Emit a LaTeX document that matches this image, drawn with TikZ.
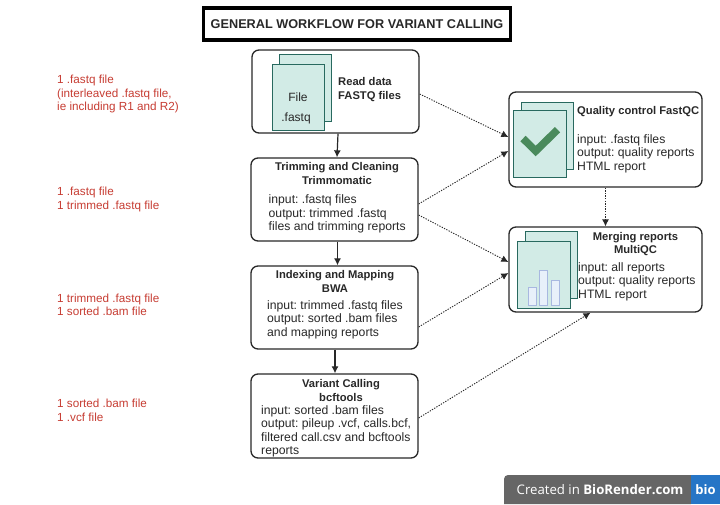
\documentclass[tikz,border=0pt]{standalone}
\usepackage{fontspec}
\setmainfont{Liberation Sans}
\newfontfamily\badgefont{Open Sans}
\usetikzlibrary{arrows.meta}
\frenchspacing
\definecolor{docfill}{RGB}{210,235,230}
\definecolor{docline}{RGB}{40,105,95}
\definecolor{checkgreen}{RGB}{74,138,92}
\definecolor{barfill}{RGB}{232,240,250}
\definecolor{barline}{RGB}{168,184,224}
\definecolor{notered}{RGB}{198,60,50}
\definecolor{darktext}{RGB}{40,40,40}
\definecolor{badgegray}{RGB}{102,102,102}
\definecolor{badgeblue}{RGB}{38,117,198}
\pgfdeclarelayer{edgelayer}
\pgfdeclarelayer{nodelayer}
\pgfsetlayers{edgelayer,main,nodelayer}
\tikzset{
  box/.style={draw=darktext,fill=white,line width=1.3pt,rounded corners=7pt,inner sep=0pt},
  doc/.style={draw=docline,fill=docfill,line width=0.9pt,inner sep=0pt},
  bar/.style={draw=barline,fill=barfill,line width=1pt,inner sep=0pt},
  head/.style={font=\fontsize{11.2}{13.6}\selectfont\bfseries,text=darktext,align=center,inner sep=0pt},
  body/.style={font=\fontsize{12.2}{13.6}\selectfont,text=darktext,align=left,inner sep=0pt,anchor=north west},
  note/.style={font=\fontsize{11.7}{13.4}\selectfont,text=notered,align=left,inner sep=0pt,anchor=north west},
  solid arrow/.style={-{Latex[length=7pt,width=7pt]},line width=1.2pt,draw=darktext},
  dot arrow/.style={-{Latex[length=7pt,width=7pt]},line width=0.9pt,draw=darktext,dash pattern=on 1.3pt off 1.3pt}
}
\begin{document}
\begin{tikzpicture}[x=1pt,y=-1pt]
  \useasboundingbox (0,0) rectangle (720,504);
  \begin{pgfonlayer}{nodelayer}
    % title
    \node [draw=black,line width=3.2pt,fill=white,minimum width=307pt,minimum height=32pt,inner sep=0pt,
      font=\fontsize{12.7}{16}\selectfont\bfseries,text=darktext] (title) at (357,24) {GENERAL WORKFLOW FOR VARIANT CALLING};

    % main column
    \node [box,minimum width=167pt,minimum height=83pt] (read) at (335.5,91.5) {};
    \node [box,minimum width=167pt,minimum height=83pt] (trim) at (334.5,199.5) {};
    \node [box,minimum width=167pt,minimum height=83pt] (bwa) at (334.5,307.5) {};
    \node [box,minimum width=167pt,minimum height=84pt] (var) at (334.5,416) {};

    % right column
    \node [box,minimum width=193pt,minimum height=95pt] (qc) at (605.5,139.5) {};
    \node [box,minimum width=193pt,minimum height=85pt] (mq) at (605.5,269.5) {};

    % read data
    \node [doc,minimum width=52pt,minimum height=67pt] (readback) at (305,87.5) {};
    \node [doc,minimum width=52pt,minimum height=66pt] (readfront) at (298,97) {};
    \node [font=\fontsize{12}{13.6}\selectfont,text=darktext] (readfile) at (298,97.5) {File};
    \node [font=\fontsize{12}{13.6}\selectfont,text=darktext] (readext) at (296,118) {.fastq};
    \node [head,align=left,anchor=north west] (readhead) at (338,77.5) {Read data\\FASTQ files};

    % trimming
    \node [head] (trimhead) at (337,173.5) {Trimming and Cleaning\\Trimmomatic};
    \node [body] (trimbody) at (268.5,194.5) {input: .fastq files\\output: trimmed .fastq\\files and trimming reports};

    % mapping
    \node [head] (bwahead) at (335,281.5) {Indexing and Mapping\\BWA};
    \node [body] (bwabody) at (267,300) {input: trimmed .fastq files\\output: sorted .bam files\\and mapping reports};

    % calling
    \node [head] (varhead) at (341,390.5) {Variant Calling\\bcftools};
    \node [body] (varbody) at (261,405) {input: sorted .bam files\\output: pileup .vcf, calls.bcf,\\filtered call.csv and bcftools\\reports};

    % quality control
    \node [doc,minimum width=52pt,minimum height=67pt] (qcback) at (547,135.5) {};
    \node [doc,minimum width=53pt,minimum height=67pt] (qcfront) at (540,143.5) {};
    \draw [checkgreen,line width=7.5pt] (523,138.5) -- (535.7,151) -- (557.5,129.7);
    \node [head,align=left,anchor=north west] (qchead) at (577,106) {Quality control FastQC};
    \node [body] (qcbody) at (577,134) {input: .fastq files\\output: quality reports\\HTML report};

    % merging
    \node [doc,minimum width=52pt,minimum height=67pt] (mqback) at (551,264.5) {};
    \node [doc,minimum width=53pt,minimum height=67pt] (mqfront) at (543.5,274.5) {};
    \node [bar,minimum width=8pt,minimum height=18pt] (barone) at (532.5,296) {};
    \node [bar,minimum width=8pt,minimum height=35pt] (bartwo) at (543.5,287.5) {};
    \node [bar,minimum width=8pt,minimum height=25pt] (barthree) at (555.5,292.5) {};
    \node [head] (mqhead) at (635.5,244) {Merging reports\\MultiQC};
    \node [body] (mqbody) at (578,262) {input: all reports\\output: quality reports\\HTML report};

    % left notes
    \node [note] (noteread) at (57,75) {1 .fastq file\\(interleaved .fastq file,\\ie including R1 and R2)};
    \node [note] (notetrim) at (57,187) {1 .fastq file\\1 trimmed .fastq file};
    \node [note] (notebwa) at (57,293.5) {1 trimmed .fastq file\\1 sorted .bam file};
    \node [note] (notevar) at (57,399) {1 sorted .bam file\\1 .vcf file};

    % badge
    \fill [badgegray] (504,504) -- (504,479) arc[start angle=180,end angle=90,radius=4pt] -- (691,475) -- (691,504) -- cycle;
    \fill [badgeblue] (691,475) rectangle (720,504);
    \node [font=\badgefont\fontsize{13.2}{14}\selectfont,text=white,inner sep=0pt,anchor=west] (badge) at (516.5,490) {Created in \textbf{BioRender.com}};
    \node [font=\badgefont\fontsize{13}{14}\selectfont\bfseries,text=white,inner sep=0pt] (badgelogo) at (705.5,490) {bio};
  \end{pgfonlayer}

  \begin{pgfonlayer}{edgelayer}
    \draw [solid arrow] ([xshift=2.5pt]read.south) -- ([xshift=2.5pt]trim.north);
    \draw [solid arrow] ([xshift=3pt]trim.south) -- ([xshift=3pt]bwa.north);
    \draw [solid arrow] ([xshift=0.5pt]bwa.south) -- ([xshift=0.5pt]var.north);

    \draw [dot arrow] ([yshift=-2.5pt]read.east) -- ([yshift=2.5pt]qc.west);
    \draw [dot arrow] ([yshift=-4.5pt]trim.east) -- ([yshift=-11.5pt]qc.west);
    \draw [dot arrow] ([yshift=-15.5pt]trim.east) -- ([yshift=7.5pt]mq.west);
    \draw [dot arrow] ([yshift=-19.5pt]bwa.east) -- ([yshift=-3.5pt]mq.west);
    \draw [dot arrow] ([yshift=-2pt]var.east) -- ([xshift=-15pt]mq.south);
    \draw [dot arrow] (qc.south) -- (mq.north);
  \end{pgfonlayer}
\end{tikzpicture}
\end{document}
